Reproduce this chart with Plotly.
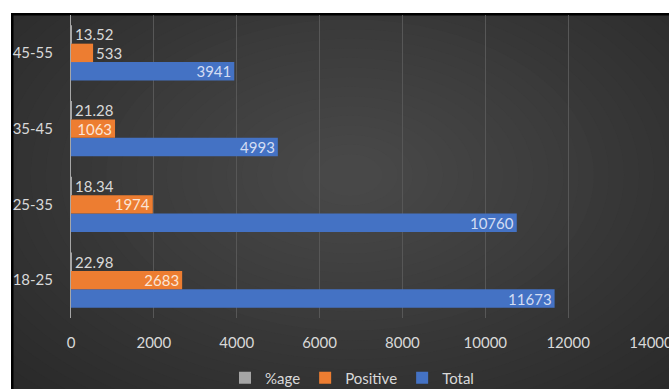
import plotly.graph_objects as go

# ---- data ----
categories = ["18-25", "25-35", "35-45", "45-55"]
total = [11673, 10760, 4993, 3941]
positive = [2683, 1974, 1063, 533]
pct = [22.98, 18.34, 21.28, 13.52]
x_ticks = [0, 2000, 4000, 6000, 8000, 10000, 12000, 14000]

FONT = "Lato"
TXT = "#d9d9d9"

fig = go.Figure()
fig.add_trace(go.Bar(
    y=categories, x=total, name="Total", orientation="h",
    marker=dict(color="#4472C4", line=dict(width=0)),
    text=[str(v) for v in total], textposition="inside", insidetextanchor="end",
    constraintext="none", textfont=dict(family=FONT, size=15, color="#d3ddf3"),
))
fig.add_trace(go.Bar(
    y=categories, x=positive, name="Positive", orientation="h",
    marker=dict(color="#ED7D31", line=dict(width=0)),
    text=[str(v) for v in positive], textposition="auto", insidetextanchor="end",
    constraintext="none",
    insidetextfont=dict(family=FONT, size=15, color="#fbe5d6"),
    outsidetextfont=dict(family=FONT, size=15, color=TXT),
))
fig.add_trace(go.Bar(
    y=categories, x=pct, name="%age", orientation="h",
    marker=dict(color="#A5A5A5", line=dict(width=0)),
    text=[f"{v:.2f}" for v in pct], textposition="outside", constraintext="none",
    cliponaxis=False,
    textfont=dict(family=FONT, size=15, color=TXT),
))

L, R, T, B = 71, 18, 15, 71
W, H = 669, 389
pw, ph = W - L - R, H - T - B
def px(xp):
    return (xp - L) / pw
def py(yp):
    return (H - B - yp) / ph

# background panel: smooth radial shading built from many faint ellipses (styling only)
X0, Y0 = 11, 13
shapes = [dict(type="rect", xref="paper", yref="paper", x0=px(X0), x1=px(W), y0=py(H), y1=py(Y0),
               fillcolor="#292929", line=dict(width=0), layer="below")]
cx, cy = 350, 175
n = 30
lo, hi = 0x2a, 0x48
for i in range(n):
    f = 1.0 - i * (0.93 / (n - 1))
    v = round(lo + (hi - lo) * i / (n - 1))
    c = f"#{v:02x}{v:02x}{v:02x}"
    rx, ry = 470 * f, 300 * f
    shapes.append(dict(type="circle", xref="paper", yref="paper",
                       x0=px(cx - rx), x1=px(cx + rx), y0=py(cy + ry), y1=py(cy - ry),
                       fillcolor=c, line=dict(width=0), layer="below"))
# clip overhang of the ellipses outside the panel with white strips, then the black frame
shapes.append(dict(type="rect", xref="paper", yref="paper", x0=px(-400), x1=px(X0),
                   y0=py(H + 400), y1=py(-400), fillcolor="white", line=dict(width=0), layer="below"))
shapes.append(dict(type="rect", xref="paper", yref="paper", x0=px(-400), x1=px(W + 400),
                   y0=py(Y0), y1=py(-400), fillcolor="white", line=dict(width=0), layer="below"))
shapes.append(dict(type="rect", xref="paper", yref="paper", x0=px(X0), x1=px(X0 + 2.5),
                   y0=py(H), y1=py(Y0), fillcolor="black", line=dict(width=0), layer="below"))
shapes.append(dict(type="rect", xref="paper", yref="paper", x0=px(X0), x1=px(W),
                   y0=py(Y0 + 2.5), y1=py(Y0), fillcolor="black", line=dict(width=0), layer="below"))

fig.update_layout(
    width=W, height=H,
    margin=dict(l=L, r=R, t=T, b=B, pad=0, autoexpand=False),
    paper_bgcolor="white",
    plot_bgcolor="rgba(0,0,0,0)",
    barmode="group", bargap=0.27, bargroupgap=0,
    font=dict(family=FONT, size=15, color=TXT),
    showlegend=True,
    legend=dict(orientation="h", x=px(352), xanchor="center", y=py(378), yanchor="middle",
                traceorder="reversed", font=dict(family=FONT, size=15, color=TXT),
                bgcolor="rgba(0,0,0,0)", itemwidth=30),
    shapes=shapes,
    xaxis=dict(range=[0, 14000], tickvals=x_ticks, ticktext=[str(v) for v in x_ticks],
               showgrid=True, gridcolor="#575757", gridwidth=1, zeroline=False,
               showline=False, ticks="", ticklabelstandoff=14, ticklabeloverflow="allow",
               tickfont=dict(family=FONT, size=15, color=TXT), fixedrange=True),
    yaxis=dict(categoryorder="array", categoryarray=categories, showgrid=False,
               showline=True, linecolor="#a6a6a6", linewidth=1, ticks="",
               ticklabelstandoff=14, tickfont=dict(family=FONT, size=15, color=TXT),
               zeroline=False, fixedrange=True),
)

fig.write_html("out.html")
